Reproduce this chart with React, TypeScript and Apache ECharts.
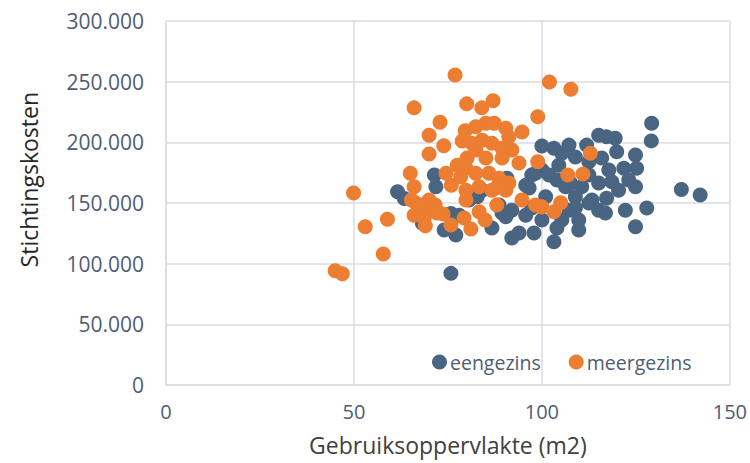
import React, { useEffect, useRef } from "react";
import * as echarts from "echarts";

const seriesNames = ["eengezins", "meergezins"];

const eengezins: [number, number][] = [
  [129.2, 215800], [129.1, 201200], [115.1, 205900], [117.2, 204500], [119.5, 203400],
  [100.0, 196900], [103.2, 195200], [107.2, 197700], [111.9, 197700], [105.3, 191100],
  [108.9, 188000], [112.5, 183900], [115.9, 187000], [119.9, 192200], [124.9, 189500],
  [125.2, 178700], [121.8, 178700], [117.8, 177100], [100.0, 177100], [97.3, 173000],
  [104.0, 168900], [107.6, 166400], [110.6, 163300], [115.1, 166400], [118.6, 167500],
  [123.1, 168900], [124.9, 163300], [96.6, 162300], [90.7, 170500], [108.9, 155100],
  [113.3, 152400], [117.2, 154000], [92.0, 144100], [97.3, 145800], [108.9, 145800],
  [112.5, 149900], [89.4, 141700], [116.9, 141700], [122.2, 144100], [127.9, 145800],
  [100.0, 135900], [105.3, 135900], [109.8, 135900], [124.9, 130400], [93.9, 125200],
  [92.0, 121100], [97.9, 125200], [104.0, 129300], [109.8, 127700], [103.2, 118000],
  [137.1, 161200], [142.1, 156500], [86.7, 129300], [90.4, 138600], [95.7, 140000],
  [61.6, 159200], [63.4, 153800], [71.4, 173000], [71.8, 163300], [68.2, 133400],
  [77.1, 123600], [75.8, 92000], [75.8, 141400], [82.8, 155100], [84.1, 160600],
  [95.7, 164700], [98.3, 174600], [101.0, 155100], [106.3, 163300], [101.9, 173000],
  [104.5, 181200], [112.5, 173000], [120.4, 160600], [115.1, 144100], [107.2, 144100],
  [80.6, 152400], [88.6, 148300], [78.0, 140000], [74.0, 127700]
];

const meergezins: [number, number][] = [
  [45.0, 94100], [46.9, 91700], [49.9, 158200], [53.0, 130400], [58.9, 136700],
  [57.8, 107900], [65.0, 174600], [66.0, 163300], [66.0, 228400], [76.9, 255400],
  [80.0, 231700], [84.0, 228400], [87.0, 234200], [98.9, 221000], [72.9, 216600],
  [70.0, 205900], [73.9, 197100], [70.0, 190300], [79.6, 209500], [78.8, 201000],
  [82.4, 212800], [85.1, 215800], [87.3, 215800], [90.4, 211700], [91.2, 204500],
  [94.7, 208600], [84.1, 201800], [86.7, 199300], [89.4, 195200], [92.0, 193600],
  [85.1, 187000], [89.4, 187000], [80.1, 187000], [82.4, 193600], [93.9, 182900],
  [98.9, 183900], [79.8, 178700], [78.4, 171600], [82.4, 174600], [85.9, 174600],
  [88.6, 170500], [91.2, 166400], [90.4, 160600], [86.7, 160600], [83.3, 163300],
  [79.8, 160600], [79.8, 152400], [70.0, 152400], [66.5, 149900], [94.7, 152400],
  [98.3, 148300], [74.5, 174600], [65.3, 152400], [67.4, 148300], [69.5, 144100],
  [71.6, 148300], [66.0, 140000], [68.7, 137600], [72.1, 141700], [69.0, 131200],
  [73.7, 140900], [75.8, 131800], [81.1, 128500], [83.3, 142700], [88.0, 148300],
  [99.9, 146900], [102.0, 249800], [107.7, 243800], [112.9, 191100], [106.9, 173000],
  [110.9, 173800], [100.0, 146600], [103.2, 142700], [105.0, 150200], [89.9, 163900],
  [81.4, 199300], [77.5, 181200], [79.3, 137600], [87.8, 162300], [84.9, 135900],
  [75.9, 164700]
];

const xTitle = "Gebruiksoppervlakte (m2)";
const yTitle = "Stichtingskosten";

const formatThousands = (v: number) =>
  v === 0 ? "0" : String(v).replace(/\B(?=(\d{3})+(?!\d))/g, ".");

export default function App() {
  const ref = useRef<HTMLDivElement>(null);
  useEffect(() => {
    if (!ref.current) return;
    document.body.style.margin = "0";
    const chart = echarts.init(ref.current, undefined, { renderer: "svg" });
    const font = "'Open Sans', 'Noto Sans', sans-serif";
    const gridColor = "#D9DDE5";
    const labelColor = "#4E5D73";
    chart.setOption({
      animation: false,
      backgroundColor: "#ffffff",
      textStyle: { fontFamily: font },
      grid: { left: 166, right: 19, top: 21, bottom: 78, show: false },
      legend: {
        data: seriesNames,
        left: 427,
        top: 347,
        icon: "circle",
        itemWidth: 15,
        itemHeight: 15,
        itemGap: 28,
        textStyle: { fontFamily: font, fontSize: 19.5, color: labelColor, padding: [0, 0, 0, -2] },
      },
      graphic: [
        {
          type: "text",
          left: 17,
          top: 92,
          rotation: Math.PI / 2,
          style: {
            text: yTitle,
            fontFamily: font,
            fontSize: 23,
            fill: "#262626",
          },
        },
      ],
      xAxis: {
        type: "value",
        min: 0,
        max: 150,
        interval: 50,
        name: xTitle,
        nameLocation: "middle",
        nameGap: 48,
        nameTextStyle: { fontFamily: font, fontSize: 23, color: "#404040" },
        axisLine: { show: true, lineStyle: { color: gridColor, width: 1.5 } },
        axisTick: { show: false },
        axisLabel: { fontFamily: font, fontSize: 20, color: labelColor, margin: 16 },
        splitLine: { show: true, lineStyle: { color: gridColor, width: 1.5 } },
      },
      yAxis: {
        type: "value",
        min: 0,
        max: 300000,
        interval: 50000,
        axisLine: { show: true, lineStyle: { color: gridColor, width: 1.5 } },
        axisTick: { show: false },
        axisLabel: {
          fontFamily: font,
          fontSize: 21,
          color: labelColor,
          margin: 22,
          formatter: (v: number) => formatThousands(v),
        },
        splitLine: { show: true, lineStyle: { color: gridColor, width: 1.5 } },
      },
      series: [
        {
          name: seriesNames[0],
          type: "scatter",
          data: eengezins,
          symbolSize: 15,
          itemStyle: { color: "#4A6582", opacity: 1 },
        },
        {
          name: seriesNames[1],
          type: "scatter",
          data: meergezins,
          symbolSize: 15,
          itemStyle: { color: "#ED7D31", opacity: 1 },
        },
      ],
    });
    return () => chart.dispose();
  }, []);
  return <div ref={ref} style={{ width: 750, height: 463 }} />;
}
